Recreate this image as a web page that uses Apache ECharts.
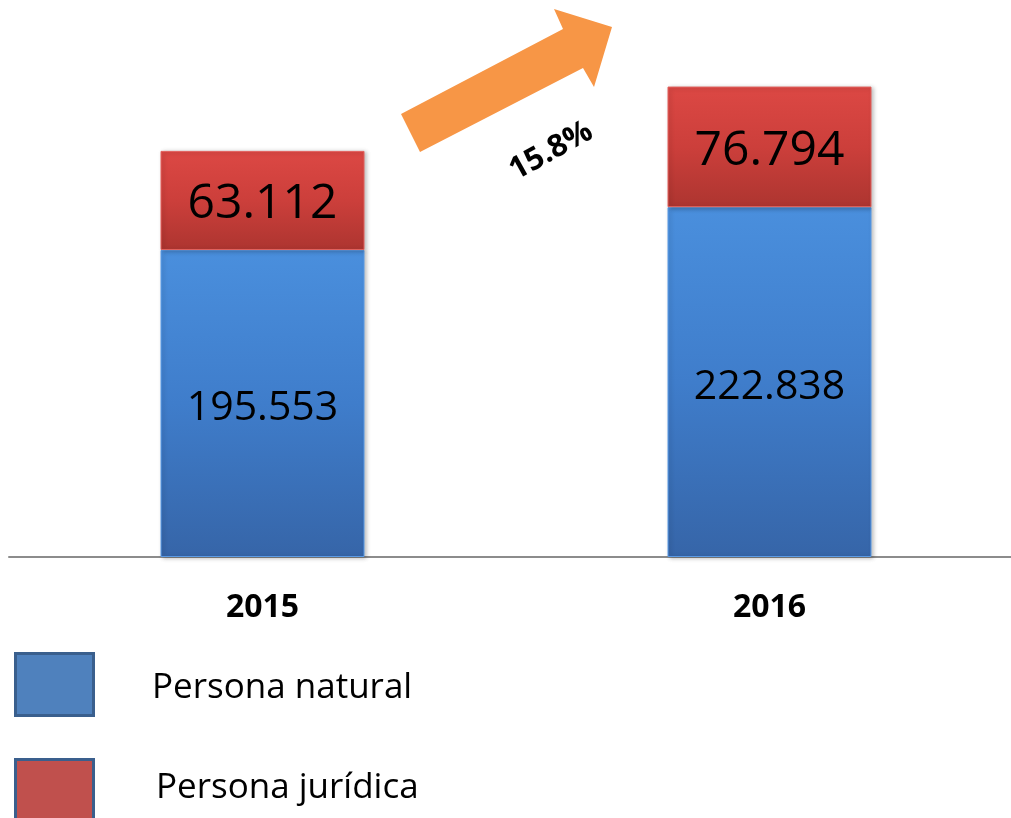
<!DOCTYPE html>
<html><head><meta charset="utf-8">
<script src="https://cdn.jsdelivr.net/npm/echarts@6/dist/echarts.min.js"></script>
<style>html,body{margin:0;padding:0;background:#fff}#c{width:1011px;height:818px}</style>
</head><body><div id="c"></div>
<script>
const categories = ['2015', '2016'];
const seriesNames = ['Persona natural', 'Persona jurídica'];
const natural = [195.553, 222.838];
const juridica = [63.112, 76.794];
const growthLabel = '15.8%';

const fmt = v => v.toFixed(3);
const chart = echarts.init(document.getElementById('c'));
const blueGrad = new echarts.graphic.LinearGradient(0,0,0,1,[{offset:0,color:'#4a8fdd'},{offset:0.5,color:'#3f7dcb'},{offset:1,color:'#3665a8'}]);
const redGrad = new echarts.graphic.LinearGradient(0,0,0,1,[{offset:0,color:'#dc4844'},{offset:0.5,color:'#cc3f3b'},{offset:1,color:'#ad3530'}]);
const font = '"Open Sans", Lato, sans-serif';

chart.setOption({
  animation:false,
  backgroundColor:'#fff',
  grid:{left:9, width:1014, top:86, bottom:261, containLabel:false, outerBoundsMode:'none'},
  xAxis:{type:'category', data:categories,
    axisLine:{lineStyle:{color:'#8c8c8c', width:2}}, axisTick:{show:false},
    axisLabel:{margin:35, fontSize:32, fontWeight:'bold', color:'#000', fontFamily:font}},
  yAxis:{type:'value', min:0, max:300, show:false, splitLine:{show:false}},
  series:[
    {name:seriesNames[0], type:'bar', stack:'t', barWidth:204, data:natural,
     itemStyle:{color:blueGrad, borderColor:'#5b9be6', borderWidth:1, shadowColor:'rgba(0,0,0,0.25)', shadowBlur:4, shadowOffsetX:2, shadowOffsetY:1},
     label:{show:true, position:'inside', formatter:p=>fmt(p.value), fontSize:41, color:'#000', fontFamily:font, offset:[0,5]}},
    {name:seriesNames[1], type:'bar', stack:'t', barWidth:204, data:juridica,
     itemStyle:{color:redGrad, borderColor:'#e2615d', borderWidth:1, shadowColor:'rgba(0,0,0,0.25)', shadowBlur:4, shadowOffsetX:2, shadowOffsetY:1},
     label:{show:true, position:'inside', formatter:p=>fmt(p.value), fontSize:48, color:'#000', fontFamily:font, offset:[0,4]}}
  ],
  graphic:[
    {type:'polygon', shape:{points:[[401,114],[563,29],[554,9],[612,27],[594,87],[583,68],[420,152]]}, style:{fill:'#f79646'}},
    {type:'text', x:551, y:151, rotation:Math.PI/180*29, style:{text:growthLabel, font:'bold 31px '+font, fill:'#000', textAlign:'center', textVerticalAlign:'middle'}},
    {type:'rect', shape:{x:15.5, y:653.5, width:78, height:62}, style:{fill:'#4f81bd', stroke:'#3a5f8d', lineWidth:3}},
    {type:'text', x:152, y:688, style:{text:seriesNames[0], font:'35px '+font, fill:'#000', textVerticalAlign:'middle'}},
    {type:'rect', shape:{x:15.5, y:759.5, width:78, height:62}, style:{fill:'#c0504d', stroke:'#3a5f8d', lineWidth:3}},
    {type:'text', x:156, y:788, style:{text:seriesNames[1], font:'35px '+font, fill:'#000', textVerticalAlign:'middle'}}
  ]
});
</script></body></html>
